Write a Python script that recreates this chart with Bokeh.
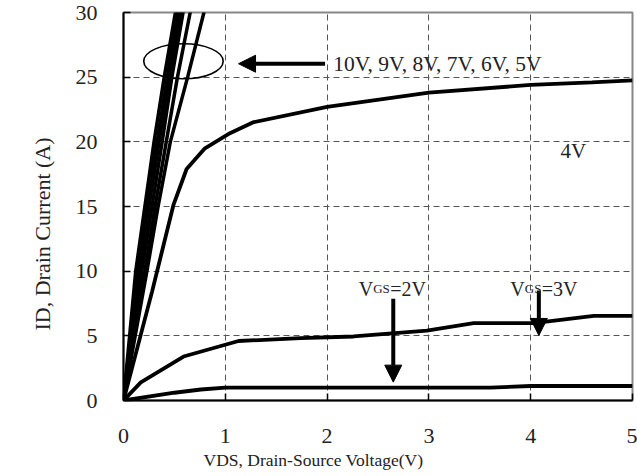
from bokeh.plotting import figure
from bokeh.models import Range1d, FixedTicker, Label, Arrow, NormalHead, Title
from bokeh.embed import file_html
from bokeh.resources import INLINE

# ---- data ----
vds_10v = [0, 0.12, 0.21, 0.30, 0.40, 0.51, 0.56]
id_10v = [0, 10, 15, 20, 25, 30, 32.5]
vds_9v = [0, 0.14, 0.23, 0.33, 0.43, 0.535, 0.585]
id_9v = [0, 10, 15, 20, 25, 30, 32.5]
vds_8v = [0, 0.16, 0.25, 0.35, 0.45, 0.56, 0.61]
id_8v = [0, 10, 15, 20, 25, 30, 32.5]
vds_7v = [0, 0.18, 0.28, 0.38, 0.475, 0.585, 0.635]
id_7v = [0, 10, 15, 20, 25, 30, 32.5]
vds_6v = [0, 0.21, 0.31, 0.42, 0.53, 0.655, 0.715]
id_6v = [0, 10, 15, 20, 25, 30, 32.5]
vds_5v = [0, 0.23, 0.34, 0.46, 0.63, 0.79, 0.87]
id_5v = [0, 10, 15, 20, 25, 30, 32.5]
vds_4v = [0, 0.28, 0.49, 0.62, 0.80, 1.03, 1.27, 2.0, 3.0, 4.0, 4.6, 5.0]
id_4v = [0, 8.4, 15.1, 17.9, 19.5, 20.6, 21.5, 22.7, 23.8, 24.4, 24.6, 24.75]
vds_3v = [0, 0.17, 0.59, 1.13, 1.74, 2.26, 2.98, 3.44, 4.03, 4.62, 5.0]
id_3v = [0, 1.4, 3.4, 4.6, 4.82, 4.95, 5.4, 5.98, 5.98, 6.55, 6.55]
vds_2v = [0, 0.5, 0.76, 1.0, 3.6, 4.0, 5.0]
id_2v = [0, 0.6, 0.85, 1.0, 1.0, 1.12, 1.12]

x_ticks = [0, 1, 2, 3, 4, 5]
y_ticks = [0, 5, 10, 15, 20, 25, 30]

FONT = "Liberation Serif"
TXT = "#222222"

p = figure(width=637, height=476, output_backend="svg", toolbar_location=None,
           x_range=Range1d(0, 5), y_range=Range1d(0, 30),
           min_border_left=123, min_border_right=5, min_border_top=12, min_border_bottom=76)

p.outline_line_color = "#888888"
p.outline_line_width = 2
p.background_fill_color = "white"

for ax in (p.xaxis[0], p.yaxis[0]):
    ax.axis_line_color = "black"
    ax.axis_line_width = 2
    ax.major_tick_in = 7
    ax.major_tick_out = 0
    ax.major_tick_line_color = "black"
    ax.major_tick_line_width = 1.5
    ax.minor_tick_line_color = None
    ax.major_label_text_font = FONT
    ax.major_label_text_font_size = "22px"
    ax.major_label_text_color = TXT

p.xaxis.ticker = FixedTicker(ticks=x_ticks)
p.yaxis.ticker = FixedTicker(ticks=y_ticks)
p.xaxis.major_label_standoff = 28
p.yaxis.major_label_standoff = 26

for g in (p.xgrid[0], p.ygrid[0]):
    g.grid_line_color = "#555555"
    g.grid_line_dash = "6 4"
    g.grid_line_width = 1
p.xgrid.ticker = FixedTicker(ticks=[1, 2, 3, 4])
p.ygrid.ticker = FixedTicker(ticks=[5, 10, 15, 20, 25])

# steep curves (10V..5V)
for xs, ys in [(vds_10v, id_10v), (vds_9v, id_9v), (vds_8v, id_8v),
               (vds_7v, id_7v), (vds_6v, id_6v), (vds_5v, id_5v)]:
    p.line(xs, ys, line_color="black", line_width=3.5)

p.line(vds_4v, id_4v, line_color="black", line_width=3.8)
p.line(vds_3v, id_3v, line_color="black", line_width=3.8)
p.line(vds_2v, id_2v, line_color="black", line_width=3.8)

# ellipse around bundle
p.ellipse(x=[0.589], y=[26.23], width=0.78, height=2.71,
          fill_alpha=0, line_color="black", line_width=1.6)

# arrows
def arrow(x0, y0, x1, y1):
    p.add_layout(Arrow(end=NormalHead(size=17, line_color="black", fill_color="black"),
                       x_start=x0, y_start=y0, x_end=x1, y_end=y1,
                       line_color="black", line_width=4))

arrow(1.98, 26.04, 1.13, 26.04)
arrow(2.65, 7.86, 2.65, 1.42)
arrow(4.08, 8.5, 4.08, 5.03)

# axis titles (placed like the reference)
p.add_layout(Title(text="VDS, Drain-Source Voltage(V)", align="left", offset=80,
                   standoff=5, text_font=FONT, text_font_size="17.5px",
                   text_font_style="normal", text_color=TXT), "below")
p.add_layout(Title(text="ID, Drain Current (A)", align="left", offset=70,
                   standoff=35, text_font=FONT, text_font_size="22px",
                   text_font_style="normal", text_color=TXT), "left")

# texts
p.add_layout(Label(x=2.06, y=26.05, text="10V, 9V, 8V, 7V, 6V, 5V",
                   text_font=FONT, text_font_size="21.5px", text_color=TXT,
                   text_baseline="middle", text_align="left"))
p.add_layout(Label(x=4.42, y=19.3, text="4V",
                   text_font=FONT, text_font_size="21px", text_color=TXT,
                   text_baseline="middle", text_align="center"))

def vgs_label(x, y, n):
    p.add_layout(Label(x=x, y=y, text="V", text_font=FONT, text_font_size="20px",
                       text_color=TXT, text_baseline="alphabetic"))
    p.add_layout(Label(x=x, y=y, x_offset=14.5, text="GS", text_font=FONT,
                       text_font_size="13px", text_color=TXT, text_baseline="alphabetic"))
    p.add_layout(Label(x=x, y=y, x_offset=31.5, text="=" + n + "V", text_font=FONT,
                       text_font_size="20px", text_color=TXT, text_baseline="alphabetic"))

vgs_label(2.31, 8.64, "2")
vgs_label(3.80, 8.64, "3")

open("out.html", "w").write(file_html(p, INLINE))
